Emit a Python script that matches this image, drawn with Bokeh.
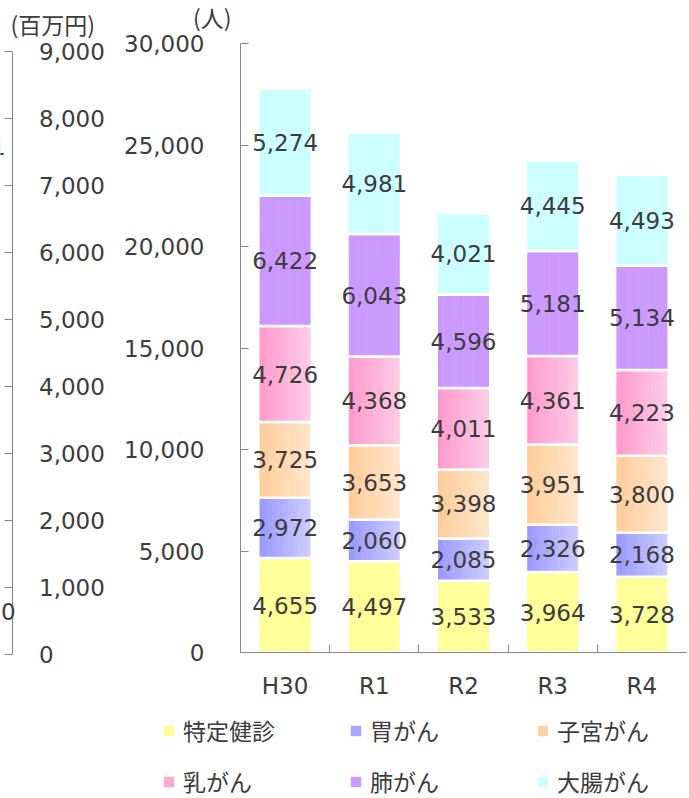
from bokeh.plotting import figure
from bokeh.models import (Range1d, LinearAxis, FixedTicker, NumeralTickFormatter,
                          Label, Legend, LegendItem, ColumnDataSource)
from bokeh.transform import dodge
from bokeh.core.properties import value
from bokeh.embed import file_html
from bokeh.resources import INLINE

# ---------------- data ----------------
categories = ["H30", "R1", "R2", "R3", "R4"]
series_names = ["特定健診", "胃がん", "子宮がん", "乳がん", "肺がん", "大腸がん"]
tokutei = [4655, 4497, 3533, 3964, 3728]
stomach = [2972, 2060, 2085, 2326, 2168]
uterus = [3725, 3653, 3398, 3951, 3800]
breast = [4726, 4368, 4011, 4361, 4223]
lung = [6422, 6043, 4596, 5181, 5134]
colon = [5274, 4981, 4021, 4445, 4493]
people_ticks = [0, 5000, 10000, 15000, 20000, 25000, 30000]
yen_ticks = [0, 1000, 2000, 3000, 4000, 5000, 6000, 7000, 8000, 9000]

series_values = [tokutei, stomach, uterus, breast, lung, colon]

# ---------------- styles / layout ----------------
grad = [("#FFFF99", "#FFFF99"), ("#9999FF", "#CCCCFF"), ("#FFCC99", "#FFE6CC"),
        ("#FF99CC", "#FFCCE6"), ("#CC99FF", "#CC99FF"), ("#CCFFFF", "#CCFFFF")]
TXT = "#3c3c3c"
AX = "#868686"
NUM_FONT = "DejaVu Sans"
JP_FONT = "Noto Sans CJK JP"
BAR_W = 0.6
NSTRIP = 16

W, H = 689, 798
PLOT_L, PLOT_R, PLOT_T, PLOT_B = 240, 686, 43, 652      # bar area in pixels
YEN_X, YEN_TOP, YEN_BOT = 11.5, 50.5, 654               # 百万円 axis in pixels
PEOPLE_MAX, YEN_MAX = 30000, 9000

ncat = len(categories)
cw = (PLOT_R - PLOT_L) / ncat
ppx = (PLOT_B - PLOT_T) / PEOPLE_MAX
ypx = (YEN_BOT - YEN_TOP) / YEN_MAX


def mix(c1, c2, t):
    a = [int(c1[i:i + 2], 16) for i in (1, 3, 5)]
    b = [int(c2[i:i + 2], 16) for i in (1, 3, 5)]
    return "#%02x%02x%02x" % tuple(round(a[k] + (b[k] - a[k]) * t) for k in range(3))


data = {"x": [i + 0.5 for i in range(ncat)]}
run = [0] * ncat
for k, vals in enumerate(series_values):
    data[f"b{k}"] = list(run)
    data[f"t{k}"] = [run[i] + vals[i] for i in range(ncat)]
    data[f"m{k}"] = [run[i] + vals[i] / 2 for i in range(ncat)]
    data[f"l{k}"] = [f"{v:,}" for v in vals]
    run = data[f"t{k}"]
source = ColumnDataSource(data)

p = figure(width=W, height=H,
           x_range=Range1d(-PLOT_L / cw, ncat + (W - PLOT_R) / cw),
           y_range=Range1d(-(H - PLOT_B) / ppx, PEOPLE_MAX + PLOT_T / ppx),
           x_axis_location=None, y_axis_location=None, toolbar_location=None,
           output_backend="svg", min_border=0, outline_line_color=None)
p.xgrid.visible = False
p.ygrid.visible = False
p.extra_y_ranges = {"yen": Range1d(-(H - YEN_BOT) / ypx, YEN_MAX + YEN_TOP / ypx)}

common = dict(axis_line_color=AX, major_tick_line_color=AX, minor_tick_line_color=AX,
              major_label_text_font=NUM_FONT, major_label_text_font_size="23px",
              major_label_text_color=TXT)

# 百万円 axis (labels to the right of its line)
yen_axis = LinearAxis(y_range_name="yen", fixed_location=(YEN_X - PLOT_L) / cw,
                      ticker=FixedTicker(ticks=yen_ticks, minor_ticks=[]),
                      formatter=NumeralTickFormatter(format="0,0"), bounds=(0, YEN_MAX),
                      major_tick_in=8, major_tick_out=0, minor_tick_in=0, minor_tick_out=0,
                      major_label_standoff=27, **common)
p.add_layout(yen_axis, "right")

# 人 axis
people_axis = LinearAxis(fixed_location=0,
                         ticker=FixedTicker(ticks=people_ticks, minor_ticks=[]),
                         formatter=NumeralTickFormatter(format="0,0"),
                         bounds=(0, PEOPLE_MAX), major_tick_in=8, major_tick_out=0,
                         minor_tick_in=0, minor_tick_out=0, major_label_standoff=36,
                         **common)
p.add_layout(people_axis, "left")

# category axis
cat_axis = LinearAxis(fixed_location=0,
                      ticker=FixedTicker(ticks=data["x"], minor_ticks=list(range(1, ncat))),
                      major_label_overrides={x: c for x, c in zip(data["x"], categories)},
                      bounds=(0, ncat), major_tick_in=0, major_tick_out=0,
                      minor_tick_in=8, minor_tick_out=0, major_label_standoff=20, **common)
p.add_layout(cat_axis, "below")

# stacked bars with a left-to-right gradient
legend_renderers = []
sw = BAR_W / NSTRIP
for k in range(len(series_values)):
    c1, c2 = grad[k]
    rep = None
    for s in range(NSTRIP):
        off = -BAR_W / 2 + (s + 0.5) * sw
        col = mix(c1, c2, s / (NSTRIP - 1))
        r = p.vbar(x=dodge("x", off, range=p.x_range), width=sw * 1.15,
                   bottom=f"b{k}", top=f"t{k}", source=source,
                   fill_color=col, line_color=None)
        if s == NSTRIP // 4:
            rep = r
    p.vbar(x="x", width=BAR_W, bottom=f"b{k}", top=f"t{k}", source=source,
           fill_color=None, line_color="white", line_width=2.5)
    legend_renderers.append(rep)

for k in range(len(series_values)):
    p.text(x="x", y=f"m{k}", text=f"l{k}", source=source, text_align="center",
           text_baseline="middle", text_font=value(NUM_FONT), text_font_size="23px",
           text_color=TXT)

# unit labels
p.add_layout(Label(x=0, y=PEOPLE_MAX, x_offset=-9, y_offset=PLOT_T - 16, text="(人)",
                   text_align="right", text_baseline="middle", text_font=JP_FONT,
                   text_font_size="23px", text_color=TXT))
p.add_layout(Label(x=0, y=PEOPLE_MAX, x_offset=10 - PLOT_L, y_offset=PLOT_T - 23,
                   text="(百万円)", text_align="left", text_baseline="middle",
                   text_font=JP_FONT, text_font_size="23px", text_color=TXT))
# fragments of labels cut by the left edge
p.add_layout(Label(x=0, y=0, x_offset=0.5 - PLOT_L, y_offset=PLOT_B - 611, text="0",
                   text_align="left", text_baseline="middle", text_font=NUM_FONT,
                   text_font_size="23px", text_color=TXT))
p.add_layout(Label(x=0, y=0, x_offset=-9.5 - PLOT_L, y_offset=PLOT_B - 146, text="1",
                   text_align="left", text_baseline="middle", text_font=NUM_FONT,
                   text_font_size="23px", text_color=TXT))

items = [LegendItem(label=n, renderers=[r]) for n, r in zip(series_names, legend_renderers)]
legend = Legend(items=items, orientation="horizontal", ncols=3, location=(162, 0),
                glyph_width=13, glyph_height=13, label_standoff=8, label_width=149,
                label_height=26, spacing=17, padding=0, margin=0,
                border_line_alpha=0, background_fill_alpha=0,
                label_text_font=JP_FONT, label_text_font_size="23px",
                label_text_color=TXT)
p.add_layout(legend)

open("out.html", "w").write(file_html(p, INLINE))
